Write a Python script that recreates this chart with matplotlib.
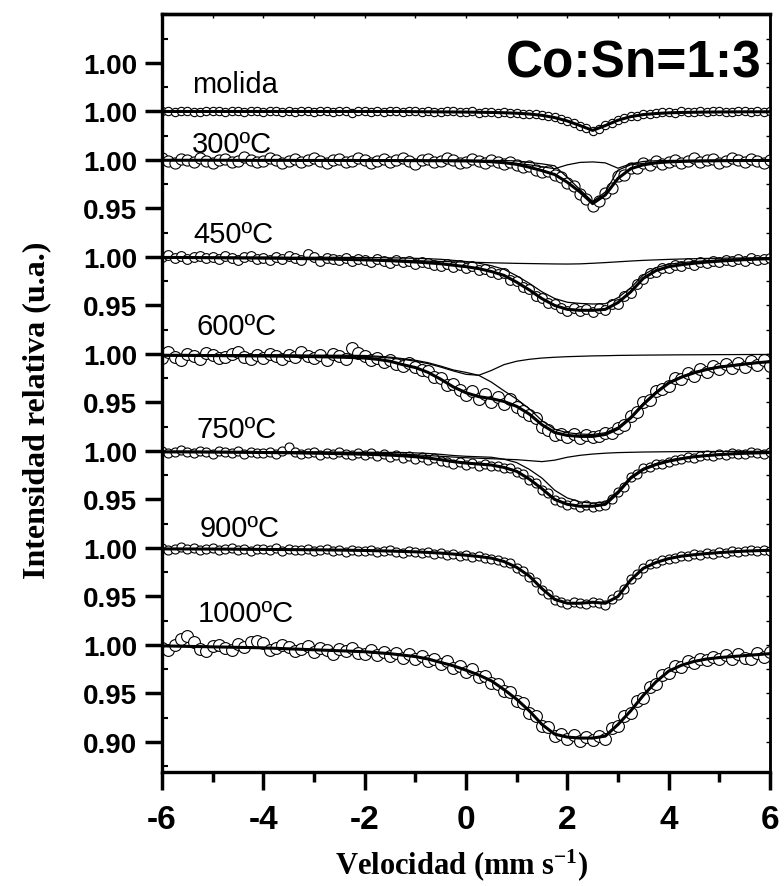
import numpy as np
import matplotlib.pyplot as plt
from matplotlib.ticker import MultipleLocator

plt.rcParams['font.family'] = ['Liberation Sans', 'DejaVu Sans']
plt.rcParams['mathtext.fontset'] = 'custom'
plt.rcParams['mathtext.rm'] = 'Liberation Serif:bold'
plt.rcParams['mathtext.it'] = 'Liberation Serif:bold'
plt.rcParams['mathtext.bf'] = 'Liberation Serif:bold'

# velocity axis (mm/s): fitted curves every 0.25, measured channels every 0.125
vel_fit = np.arange(49) * 0.25 - 6
vel_data = np.arange(97) * 0.125 - 6

labels = ['molida', '300ºC', '450ºC', '600ºC', '750ºC', '900ºC', '1000ºC']

# all spectra as absorption depth in per mille (intensity = 1 - depth/1000)
fit_molida = [0, 0, 0, 0, 0, 0, 0, 0, 0, 0, 0, 0, 0, 0, 0, 0, 0, 0, 0, 0,
              0.2, 0.3, 0.4, 0.5, 0.6, 0.8, 1.0, 1.3, 1.8, 2.6, 4.0, 6.3, 9.8, 14.5, 19.5,
              14.5, 9.0, 5.3, 3.2, 2.1, 1.4, 1.0, 0.8, 0.6, 0.5, 0.4, 0.35, 0.3, 0.3]
data_molida = [0, -1, 1, 0, -1, 1, 1, 0, -1, 0, 1, -1, 0, 1, 0, -1,
               1, 0, -1, 1, 0, 1, -1, 0, 1, 0, -1, 1, 0, -1, 2, 0,
               -1, 1, 0, 1, -1, 0, 1, 0, -1, 1, 0, 1, 1, -1, 0, 1,
               1, 0, 2, 1, 1, 2, 1, 2, 2, 3, 3, 3, 4, 5, 6, 8,
               10, 12, 15, 17, 20, 18, 14, 12, 9, 7, 5, 5, 3, 3, 2, 1,
               1, 2, 0, 1, 1, 0, 1, -1, 0, 1, 1, 0, -1, 1, 0, 1, 0]

fit_300 = [0.3, 0.3, 0.3, 0.3, 0.3, 0.3, 0.4, 0.4, 0.4, 0.4, 0.4, 0.5, 0.5, 0.5, 0.5, 0.5,
           0.6, 0.6, 0.6, 0.7, 0.7, 0.8, 0.8, 0.9,
           1.0, 1.3, 1.8, 2.8, 4.5, 7.5, 11, 15, 23, 33, 45, 36, 19, 9, 5, 3, 2,
           1.5, 1.2, 1.0, 0.8, 0.7, 0.6, 0.5, 0.5]
sub1_300 = [0.2, 0.2, 0.2, 0.2, 0.2, 0.2, 0.2, 0.2, 0.2, 0.2, 0.2, 0.2, 0.2, 0.2, 0.2, 0.2,
            0.2, 0.2, 0.2, 0.2, 0.3, 0.4, 0.5, 0.6,
            0.8, 1.0, 1.4, 2.2, 3.5, 5.0, 7.0, 9.0, 5.0, 2.5, 2.0, 3.0, 8.5, 4.0, 1.5, 0.8, 0.5,
            0.3, 0.3, 0.3, 0.3, 0.3, 0.3, 0.3, 0.3]
sub2_300 = [0.1, 0.1, 0.1, 0.1, 0.1, 0.1, 0.2, 0.2, 0.2, 0.2, 0.2, 0.3, 0.3, 0.3, 0.3, 0.3,
            0.4, 0.4, 0.4, 0.5, 0.4, 0.4, 0.3, 0.3,
            0.2, 0.3, 0.4, 0.6, 1.0, 2.5, 4.0, 6.0, 18, 30.5, 43, 33, 10.5, 5.0, 3.5, 2.2, 1.5,
            1.2, 0.9, 0.7, 0.5, 0.4, 0.3, 0.2, 0.2]
data_300 = [-2, 1, 3, -1, 0, 2, -2, 1, 3, 0, -1, 2, 1, -3, 0, 2,
            1, -2, 0, 3, 1, -1, 2, 0, -2, 1, 3, 0, -1, 2, 1, -2,
            0, 3, 1, -1, 2, 0, -2, 1, 4, 0, -1, 2, 1, -2, 0, 3,
            2, -1, 1, 3, 0, 2, 4, 2, 5, 7, 6, 10, 12, 11, 16, 18,
            24, 27, 35, 40, 47, 42, 34, 29, 17, 15, 8, 8, 3, 5, 1, 4,
            2, 0, 3, 1, -2, 2, 0, -1, 3, 1, -2, 0, 2, -1, 1, 3, 0]

fit_450 = [0.5, 0.5, 0.6, 0.7, 0.8, 0.9, 1.0, 1.1, 1.2, 1.3, 1.5, 1.7, 1.9, 2.1, 2.4, 2.7,
           3.0, 3.4, 3.9, 4.5, 5.2, 6.0, 7.0, 8.5,
           10, 12, 15, 19, 26, 34, 43, 50, 54, 55, 55, 54, 47, 36, 22, 14, 10,
           8, 6.5, 5.3, 4.3, 3.5, 2.8, 2.2, 1.8]
sub1_450 = [0.4, 0.45, 0.5, 0.55, 0.6, 0.7, 0.8, 0.9, 1.0, 1.1, 1.2, 1.4, 1.6, 1.8, 2.0, 2.2,
            2.4, 2.7, 3.0, 3.4, 3.8, 4.2, 4.6, 5.0,
            5.3, 5.6, 6.0, 6.3, 6.6, 6.8, 7.0, 7.2, 7.3, 7.1, 6.5, 5.8, 5.0, 4.2, 3.5, 3.0, 2.5,
            2.1, 1.8, 1.5, 1.3, 1.15, 1.0, 0.9, 0.8]
sub2_450 = [0.1, 0.05, 0.1, 0.15, 0.2, 0.2, 0.2, 0.2, 0.2, 0.2, 0.3, 0.3, 0.3, 0.3, 0.4, 0.5,
            0.6, 0.7, 0.9, 1.1, 1.4, 1.8, 2.4, 3.5,
            4.7, 6.4, 9.0, 12.7, 19.4, 27.2, 36, 42.8, 46.7, 47.9, 48.5, 48.2, 42, 31.8, 18.5, 11, 7.5,
            5.9, 4.7, 3.8, 3.0, 2.35, 1.8, 1.3, 1.0]
data_450 = [0, -2, 1, -1, 2, 0, -1, 1, 0, 2, -1, 1, 3, 0, -1, 2,
            1, 3, 0, 2, -1, 1, 3, -3, 0, 4, 1, 2, 3, 1, 4, 2,
            3, 5, 2, 4, 6, 3, 5, 4, 7, 5, 6, 8, 9, 7, 10, 8,
            11, 9, 13, 12, 16, 18, 17, 24, 25, 31, 33, 40, 42, 47, 49, 53,
            56, 53, 56, 54, 57, 53, 55, 49, 48, 40, 37, 28, 23, 17, 15, 11,
            11, 8, 9, 6, 8, 5, 6, 4, 5, 3, 4, 2, 4, 1, 3, 2, 1]

fit_600 = [1.5, 1.5, 1.5, 1.6, 1.7, 1.8, 1.9, 2.0, 2.1, 2.2, 2.4, 2.6, 2.8, 3.0, 3.3, 3.7,
           4.2, 5.5, 7.5, 11, 14, 19, 26, 34,
           40, 44, 46, 49, 54, 62, 73, 81, 84, 85, 85, 83, 77, 66, 52, 40, 30,
           24, 19.5, 16, 13.5, 12, 10.5, 9, 8]
sub1_600 = [0.5, 0.55, 0.6, 0.65, 0.7, 0.75, 0.85, 0.9, 1.0, 1.1, 1.2, 1.35, 1.5, 1.7, 2.0, 2.3,
            2.6, 3.2, 4.2, 5.5, 7.5, 10, 13.5, 17.5,
            21, 22, 17, 11, 7.5, 5.5, 4.2, 3.4, 2.8, 2.4, 2.0, 1.8, 1.5, 1.35, 1.2, 1.1, 1.0,
            0.9, 0.85, 0.8, 0.7, 0.65, 0.6, 0.55, 0.5]
sub2_600 = [1.0, 0.95, 0.9, 0.95, 1.0, 1.05, 1.05, 1.1, 1.1, 1.1, 1.2, 1.25, 1.3, 1.3, 1.3, 1.4,
            1.6, 2.3, 3.3, 4.8, 6.5, 9, 12.5, 16.5,
            19, 22, 29, 38, 46.5, 56.5, 68.8, 77.6, 81.2, 82.6, 83, 81.2, 75.5, 64.6, 50.8, 38.9, 29,
            23.1, 18.6, 15.2, 12.8, 11.3, 9.9, 8.4, 7.5]
data_600 = [4, -2, 3, 6, 0, 2, 5, -1, 1, 4, 3, 0, -2, 3, 5, 1,
            4, 0, 2, 5, 1, 3, -2, 2, 4, 1, 6, 0, 2, 5, -6, -1,
            2, 6, 4, 8, 6, 10, 12, 9, 13, 17, 18, 24, 25, 32, 31, 37,
            42, 38, 46, 41, 50, 44, 52, 46, 55, 59, 63, 66, 75, 78, 84, 83,
            86, 83, 87, 84, 86, 85, 82, 81, 76, 73, 64, 60, 50, 47, 38, 36,
            33, 25, 26, 20, 23, 16, 19, 12, 15, 10, 14, 9, 13, 7, 11, 6, 12]

fit_750 = [1.0, 1.0, 1.0, 1.1, 1.2, 1.3, 1.4, 1.5, 1.6, 1.75, 1.9, 2.1, 2.3, 2.5, 2.8, 3.1,
           3.4, 3.8, 4.3, 5.0, 6.0, 7.3, 9.0, 11,
           12.5, 13.5, 14.5, 17, 21, 29, 39, 50, 55, 57, 57, 55, 43, 28, 19, 14, 10.5,
           8, 6, 4.8, 3.8, 3.0, 2.4, 2.0, 1.7]
sub1_750 = [0.3, 0.3, 0.35, 0.4, 0.45, 0.5, 0.55, 0.6, 0.7, 0.8, 0.9, 1.0, 1.1, 1.3, 1.5, 1.7,
            2.0, 2.4, 2.8, 3.4, 4.0, 4.7, 5.5, 6.3,
            7.0, 7.5, 8.0, 8.5, 9.0, 10, 11, 9.5, 6.5, 4.5, 3.2, 2.3, 1.7, 1.4, 1.1, 0.95, 0.8,
            0.7, 0.6, 0.55, 0.5, 0.45, 0.4, 0.35, 0.3]
sub2_750 = [0.7, 0.7, 0.65, 0.7, 0.75, 0.8, 0.85, 0.9, 0.9, 0.95, 1.0, 1.1, 1.2, 1.2, 1.3, 1.4,
            1.4, 1.4, 1.5, 1.6, 2.0, 2.6, 3.5, 4.7,
            5.5, 6.0, 6.5, 8.5, 12, 19, 28, 40.5, 48.5, 52.5, 53.8, 52.7, 41.3, 26.6, 17.9, 13.05, 9.7,
            7.3, 5.4, 4.25, 3.3, 2.55, 2.0, 1.65, 1.4]
data_750 = [0, 2, 1, -1, 1, 2, 0, 1, 3, 0, 1, 2, 0, 3, 1, 2,
            2, 1, 3, 0, -4, 1, 3, 2, 1, 4, 2, 3, 1, 3, 4, 2,
            4, 2, 5, 3, 6, 4, 7, 5, 8, 6, 9, 7, 10, 11, 13, 11,
            14, 12, 15, 13, 16, 15, 18, 18, 22, 24, 30, 33, 40, 43, 51, 53,
            56, 55, 58, 56, 58, 57, 56, 50, 42, 37, 27, 24, 18, 17, 13, 13,
            11, 9, 8, 6, 7, 5, 4, 5, 3, 4, 2, 3, 3, 1, 2, 3, 1]

fit_900 = [1.0, 1.0, 1.05, 1.1, 1.15, 1.2, 1.3, 1.4, 1.5, 1.6, 1.7, 1.8, 1.9, 2.0, 2.2, 2.4,
           2.6, 2.9, 3.2, 3.6, 4.0, 4.6, 5.3, 6.3,
           7.5, 8.8, 10.5, 14, 20, 29, 42, 53, 57, 57, 56, 57, 50, 33, 21, 15, 11,
           8.5, 7, 5.8, 4.8, 4.0, 3.3, 2.8, 2.4]
data_900 = [0, 2, 1, -1, 1, 0, 2, 1, 0, 2, 1, 0, 2, 1, 3, 1,
            1, 2, 0, 3, 1, 2, 2, 1, 3, 2, 1, 3, 2, 4, 2, 3,
            3, 2, 4, 3, 2, 4, 5, 3, 4, 5, 4, 6, 5, 7, 6, 8,
            7, 9, 8, 10, 11, 12, 15, 16, 21, 24, 30, 35, 43, 47, 54, 56,
            58, 56, 57, 58, 56, 57, 59, 53, 49, 42, 32, 27, 21, 17, 16, 12,
            11, 10, 8, 8, 6, 7, 5, 6, 4, 5, 3, 4, 3, 2, 3, 2, 3]

fit_1000 = [1, 1.2, 1.5, 1.7, 2, 2.2, 2.5, 2.7, 3, 3.5, 4, 4.5, 5, 5.5, 6, 6.5,
            7, 8, 9, 10.5, 12, 14.5, 18, 21.5,
            26, 31, 37, 46, 56, 68, 82, 92, 95, 96, 96, 94, 82, 68, 52, 38, 27,
            21, 17, 14.5, 13, 12, 11, 10, 9]
data_1000 = [3, 5, 0, -6, -9, -3, 4, 6, 1, 0, 3, 5, -1, 2, -3, -4,
             -2, 5, 3, 0, 2, 6, 4, 1, 7, 3, 5, 9, 4, 6, 3, 8,
             9, 5, 10, 7, 11, 8, 13, 9, 14, 11, 17, 14, 20, 17, 24, 22,
             28, 25, 33, 32, 39, 40, 48, 49, 58, 60, 70, 73, 84, 85, 94, 92,
             97, 93, 99, 95, 98, 94, 97, 86, 84, 73, 70, 58, 55, 43, 40, 31,
             29, 22, 23, 17, 19, 14, 16, 12, 15, 10, 14, 9, 13, 15, 8, 12, 7]

ytick_labels = ['0.90', '0.95', '1.00', '0.95', '1.00', '0.95', '1.00', '0.95',
                '1.00', '0.95', '1.00', '0.95', '1.00', '1.00', '1.00']
xtick_labels = ['-6', '-4', '-2', '0', '2', '4', '6']

# layout: vertical offset of each spectrum's 1.00 level, label positions, marker sizes
offsets = [0.65, 0.60, 0.50, 0.40, 0.30, 0.20, 0.10]
label_x = [-5.41, -5.41, -5.39, -5.31, -5.31, -5.25, -5.29]
label_y = [0.670, 0.608, 0.5155, 0.4206, 0.3144, 0.2123, 0.1247]
msizes = [6, 8, 7, 8.5, 6.5, 6.5, 8.5]

all_data = [data_molida, data_300, data_450, data_600, data_750, data_900, data_1000]
all_fits = [fit_molida, fit_300, fit_450, fit_600, fit_750, fit_900, fit_1000]
all_subs = [[], [sub1_300, sub2_300], [sub1_450, sub2_450], [sub1_600, sub2_600],
            [sub1_750, sub2_750], [], []]

fig = plt.figure(figsize=(7.84, 8.87), dpi=100)
ax = fig.add_axes([162 / 784, 114 / 887, 608 / 784, 758 / 887])

for i in range(len(labels)):
    off = offsets[i]
    ax.plot(vel_data, off - np.array(all_data[i]) / 1000, 'o', ms=msizes[i],
            mfc='white', mec='black', mew=0.8, zorder=2)
    for sub in all_subs[i]:
        ax.plot(vel_fit, off - np.array(sub) / 1000, color='black', lw=0.9, zorder=3)
    ax.plot(vel_fit, off - np.array(all_fits[i]) / 1000, color='black', lw=2.2, zorder=4)
    ax.text(label_x[i], label_y[i], labels[i], ha='left', va='baseline', fontsize=21, zorder=5)

ax.text(0.987, 0.918, 'Co:Sn=1:3', transform=ax.transAxes, ha='right', va='baseline',
        fontsize=37, fontweight='bold')

ax.set_xlim(-6, 6)
ax.set_ylim(-0.031, 0.7505)

ax.set_yticks(np.arange(15) * 0.05)
ax.set_yticklabels(ytick_labels, fontsize=20, fontweight='bold')
ax.yaxis.set_minor_locator(MultipleLocator(0.025))
ax.set_xticks([-6, -4, -2, 0, 2, 4, 6])
ax.set_xticklabels(xtick_labels, fontsize=24, fontweight='bold')
ax.xaxis.set_minor_locator(MultipleLocator(1))

ax.tick_params(axis='y', which='major', direction='out', length=12, width=2.5, pad=6)
ax.tick_params(axis='y', which='minor', direction='in', length=4, width=1.5)
ax.tick_params(axis='x', which='major', direction='out', length=13, width=2.5, pad=10)
ax.tick_params(axis='x', which='minor', direction='out', length=7, width=2.5)

for side in ['left', 'bottom', 'top']:
    ax.spines[side].set_linewidth(2.4)
ax.spines['right'].set_linewidth(1.8)

secy = ax.secondary_yaxis('right')
secy.set_yticks(np.arange(31) * 0.025)
secy.set_yticklabels([])
secy.tick_params(direction='in', length=3, width=1.0)
secy.spines['right'].set_linewidth(1.8)

secx = ax.secondary_xaxis('top')
secx.set_xticks(np.arange(-6, 7, 1))
secx.set_xticklabels([])
secx.tick_params(direction='in', length=3, width=1.0)
secx.spines['top'].set_linewidth(2.4)

fig.text(37 / 784, 1 - 410 / 887, 'Intensidad relativa (u.a.)', rotation=90,
         ha='center', va='center', fontsize=23, fontweight='bold', family='Liberation Serif')
fig.text(462 / 784, 1 - 874 / 887, 'Velocidad (mm s$^{-1}$)', ha='center', va='baseline',
         fontsize=22, fontweight='bold', family='Liberation Serif')

fig.savefig('out.png', dpi=100)
